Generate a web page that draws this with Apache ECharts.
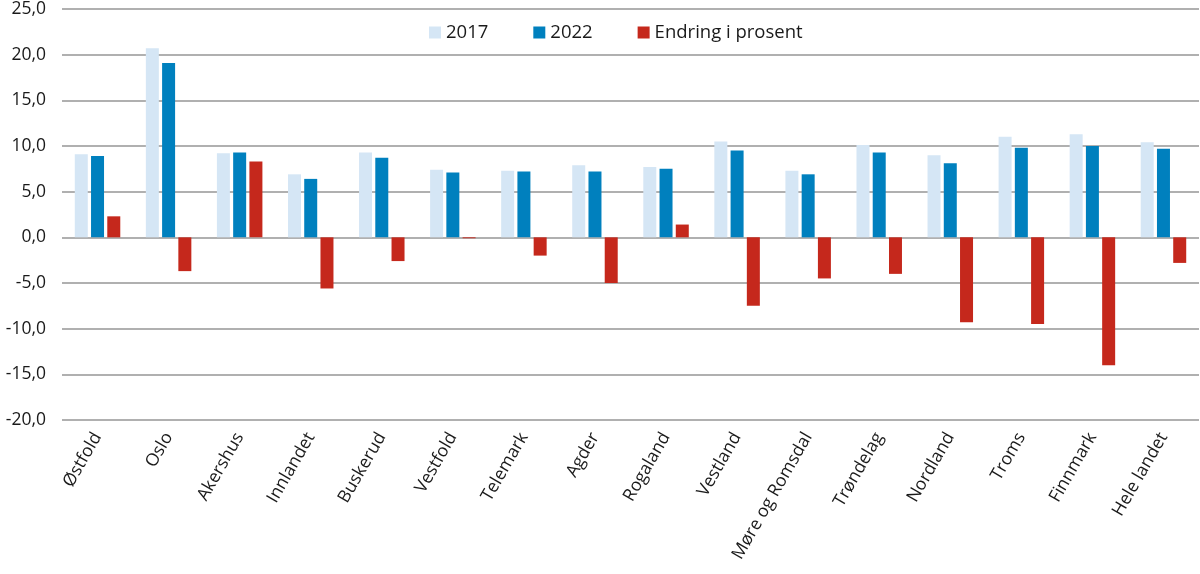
<!DOCTYPE html>
<html>
<head>
<meta charset="utf-8">
<script src="https://cdn.jsdelivr.net/npm/echarts@6/dist/echarts.min.js"></script>
<style>
  html, body { margin: 0; padding: 0; background: #fff; }
  #chart { width: 1200px; height: 574px; }
</style>
</head>
<body>
<div id="chart"></div>
<script>
// fylker
const categories = ['Østfold', 'Oslo', 'Akershus', 'Innlandet', 'Buskerud', 'Vestfold', 'Telemark', 'Agder',
  'Rogaland', 'Vestland', 'Møre og Romsdal', 'Trøndelag', 'Nordland', 'Troms', 'Finnmark', 'Hele landet']

const values2017 = [9.1, 20.7, 9.2, 6.9, 9.3, 7.4, 7.3, 7.9, 7.7, 10.5, 7.3, 10.1, 9.0, 11.0, 11.3, 10.4]
const values2022 = [8.9, 19.1, 9.3, 6.4, 8.7, 7.1, 7.2, 7.2, 7.5, 9.5, 6.9, 9.3, 8.1, 9.8, 10.0, 9.7]
const endring = [2.3, -3.7, 8.3, -5.6, -2.6, -0.1, -2.0, -5.0, 1.4, -7.5, -4.5, -4.0, -9.3, -9.5, -14.0, -2.8]

const seriesNames = ['2017', '2022', 'Endring i prosent']

const font = 'Open Sans'
const chart = echarts.init(document.getElementById('chart'))

const barBase = {
  type: 'bar',
  barWidth: 13,
  barGap: '25%',
}

chart.setOption({
  animation: false,
  textStyle: { fontFamily: font },
  legend: {
    data: seriesNames,
    left: 424,
    top: 18,
    icon: 'rect',
    itemWidth: 12,
    itemHeight: 12,
    itemGap: 45,
    textStyle: { fontFamily: font, fontSize: 18.5, color: '#1a1a1a' },
  },
  grid: { left: 62, right: 1, top: 8, bottom: 154, containLabel: false },
  xAxis: {
    type: 'category',
    data: categories,
    axisLine: { show: false },
    axisTick: { show: false },
    axisLabel: {
      rotate: 60,
      interval: 0,
      margin: 14,
      fontFamily: font,
      fontSize: 17.5,
      color: '#1a1a1a',
    },
  },
  yAxis: {
    type: 'value',
    min: -20,
    max: 25,
    interval: 5,
    axisLine: { show: false },
    axisTick: { show: false },
    axisLabel: {
      margin: 16,
      fontFamily: font,
      fontSize: 17.5,
      color: '#1a1a1a',
      formatter: v => v.toFixed(1).replace('.', ','),
    },
    splitLine: { lineStyle: { color: '#969696', width: 1.6 } },
  },
  series: [
    { ...barBase, name: seriesNames[0], data: values2017, itemStyle: { color: '#d5e6f5' } },
    { ...barBase, name: seriesNames[1], data: values2022, itemStyle: { color: '#0080be' } },
    { ...barBase, name: seriesNames[2], data: endring, itemStyle: { color: '#c5281c' } },
  ],
})
</script>
</body>
</html>
